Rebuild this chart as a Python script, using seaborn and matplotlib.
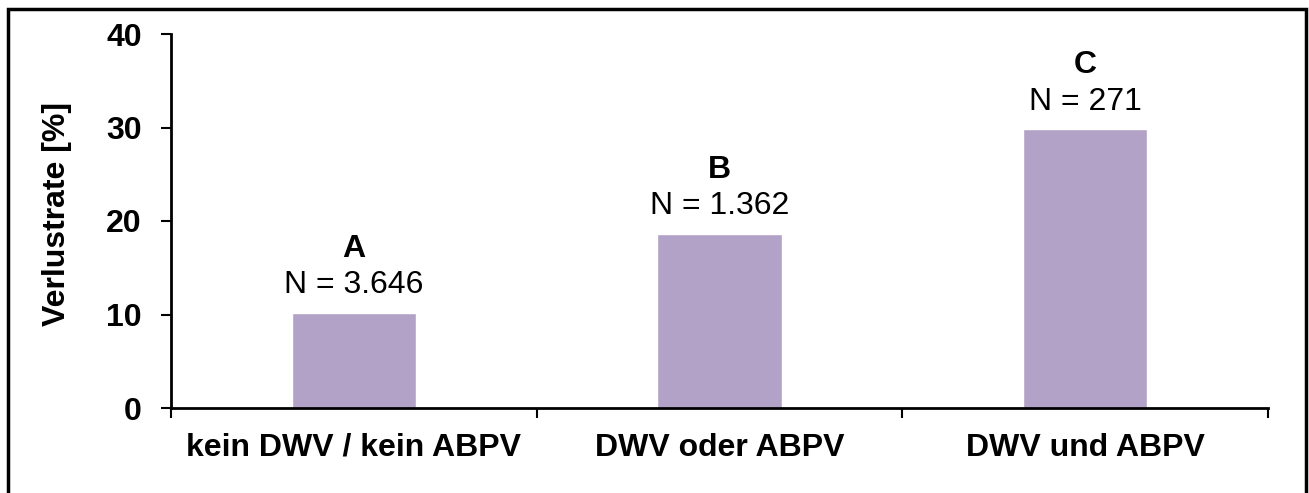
import matplotlib
matplotlib.use("Agg")
import matplotlib.pyplot as plt
import seaborn as sns
import pandas as pd
from matplotlib.patches import Rectangle

# Daten
kategorien = ["kein DWV / kein ABPV", "DWV oder ABPV", "DWV und ABPV"]
verlustrate = [10.2, 18.6, 29.8]
buchstaben = ["A", "B", "C"]
n_labels = ["N = 3.646", "N = 1.362", "N = 271"]

df = pd.DataFrame({"Gruppe": kategorien, "Verlustrate": verlustrate})

sns.set_style("white")
plt.rcParams["font.family"] = ["Liberation Sans", "DejaVu Sans"]
plt.rcParams["text.color"] = "black"
plt.rcParams["axes.labelcolor"] = "black"
plt.rcParams["xtick.color"] = "black"
plt.rcParams["ytick.color"] = "black"

fig = plt.figure(figsize=(13.09, 4.93), dpi=100)
ax = fig.add_axes([171 / 1309, 1 - 408 / 493, 1097 / 1309, 374 / 493])

sns.barplot(data=df, x="Gruppe", y="Verlustrate", color="#B3A2C7",
            width=0.34, saturation=1, ax=ax)

# Beschriftung über den Balken
for i, (b, n, v) in enumerate(zip(buchstaben, n_labels, verlustrate)):
    ax.annotate(n, (i, v), xytext=(0, 20), textcoords="offset points",
                ha="center", va="center", fontsize=23)
    ax.annotate(b, (i, v), xytext=(0, 46), textcoords="offset points",
                ha="center", va="center", fontsize=23, fontweight="bold")

ax.set_ylim(0, 40)
ax.set_yticks([0, 10, 20, 30, 40])
ax.set_xlim(-0.5, 2.5)
ax.set_xticks([-0.5, 0.5, 1.5, 2.5], minor=True)
ax.tick_params(axis="x", which="major", length=0, pad=18, labelsize=23)
ax.tick_params(axis="x", which="minor", length=7, width=1.5, direction="out",
               color="black", bottom=True)
ax.tick_params(axis="y", length=7, width=1.5, direction="out", color="black",
               left=True, pad=14, labelsize=23)
for lbl in ax.get_xticklabels() + ax.get_yticklabels():
    lbl.set_fontweight("bold")

ax.set_xlabel("")
ax.set_ylabel("Verlustrate [%]", fontsize=23, fontweight="bold")
ax.yaxis.set_label_coords(-0.090, 0.52)

sns.despine(ax=ax)
for s in ["left", "bottom"]:
    ax.spines[s].set_linewidth(2)
    ax.spines[s].set_color("black")

# Rahmen um die Grafik
fig.patches.append(Rectangle((8 / 1309, -0.05), 1298 / 1309, 1.05 - 9 / 493,
                             transform=fig.transFigure, fill=False,
                             edgecolor="black", linewidth=2.5))

fig.savefig("out.png", dpi=100)
